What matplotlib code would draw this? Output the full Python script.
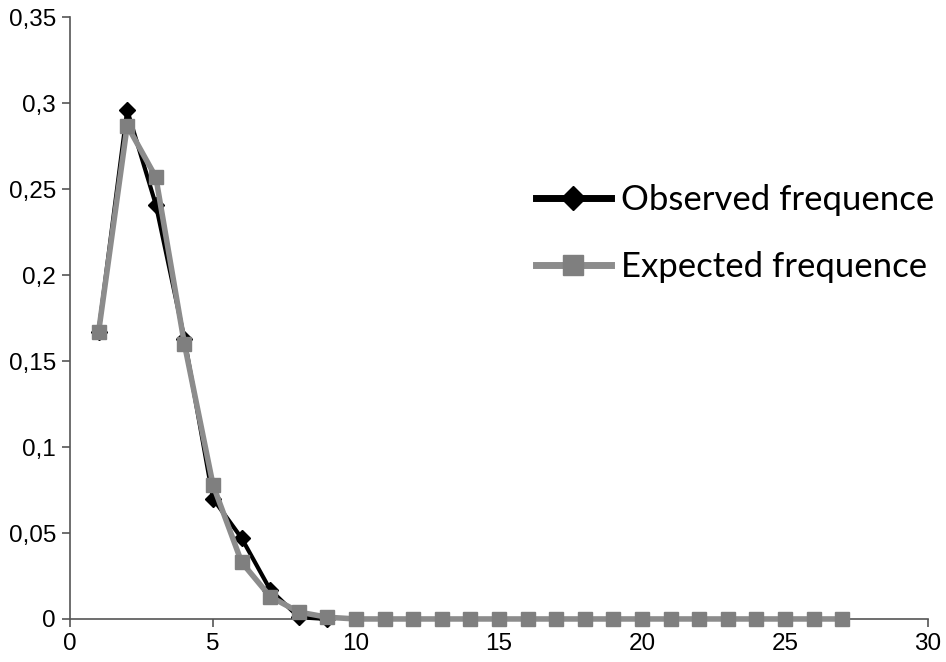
import matplotlib
matplotlib.use("Agg")
import matplotlib.pyplot as plt
from matplotlib.ticker import FuncFormatter, MultipleLocator

obs_x = [1, 2, 3, 4, 5, 6, 7, 8, 9]
obs_y = [0.167, 0.296, 0.241, 0.163, 0.070, 0.047, 0.017, 0.001, 0.0]
exp_x = list(range(1, 28))
exp_y = [0.167, 0.287, 0.257, 0.160, 0.078, 0.033, 0.013, 0.004, 0.001] + [0.0] * 18

fig = plt.figure(figsize=(9.46, 6.62), dpi=100)
ax = fig.add_axes([0.074, 0.065, 0.907, 0.909])

ax.plot(obs_x, obs_y, color="black", lw=3, marker="D", ms=8, mfc="black", mec="black",
        label="Observed frequence", zorder=3, clip_on=False)
ax.plot(exp_x, exp_y, color="#8c8c8c", lw=4, marker="s", ms=10, mfc="#7f7f7f", mec="#7f7f7f",
        label="Expected frequence", zorder=4, clip_on=False)

ax.set_xlim(0, 30)
ax.set_ylim(0, 0.35)
ax.xaxis.set_major_locator(MultipleLocator(5))
ax.yaxis.set_major_locator(MultipleLocator(0.05))

def fmt(v, pos):
    s = ("%.2f" % v).rstrip("0").rstrip(".")
    return s.replace(".", ",")
ax.yaxis.set_major_formatter(FuncFormatter(fmt))
ax.xaxis.set_major_formatter(FuncFormatter(lambda v, p: "%d" % v))

for s in ["top", "right"]:
    ax.spines[s].set_visible(False)
for s in ["left", "bottom"]:
    ax.spines[s].set_color("#555555")
    ax.spines[s].set_linewidth(1.2)
ax.tick_params(axis="both", direction="out", length=6, width=1.2, color="#555555",
               labelsize=17.5, pad=4)
for lab in ax.get_xticklabels() + ax.get_yticklabels():
    lab.set_family("Liberation Sans")

leg = ax.legend(loc="center left", bbox_to_anchor=(0.527, 0.64), frameon=False,
                prop={"family": "Lato", "size": 25}, handlelength=2.15, handletextpad=0.3,
                labelspacing=1.0, borderaxespad=0, markerscale=1.5)
for h in leg.get_lines():
    h.set_linewidth(5)

fig.savefig("out.png", dpi=100)
